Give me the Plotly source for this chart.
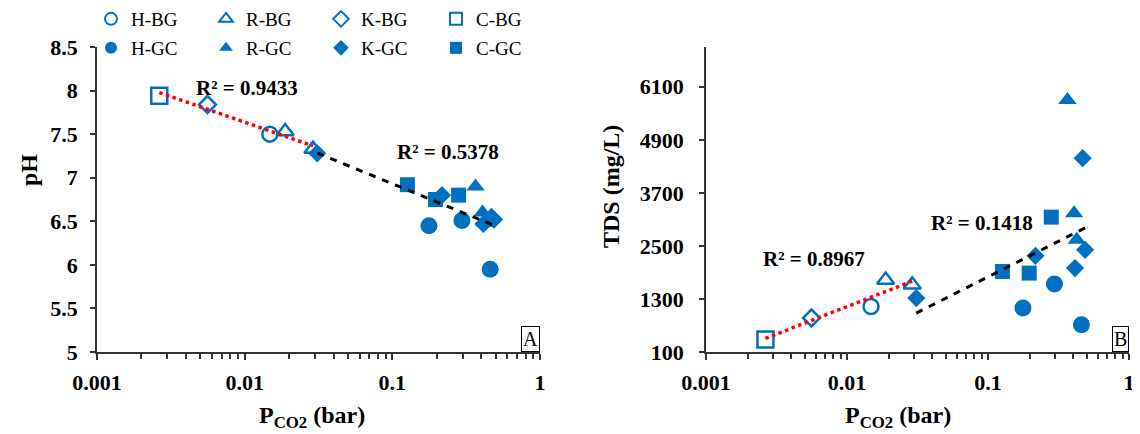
import numpy as np
import plotly.graph_objects as go

# ---------------- data ----------------
h_bg_pco2 = [0.0148]
h_bg_ph = [7.50]
h_bg_tds = [1130]

r_bg_pco2 = [0.0188, 0.0290]
r_bg_ph = [7.53, 7.33]
r_bg_tds = [1730, 1620]

k_bg_pco2 = [0.0056]
k_bg_ph = [7.84]
k_bg_tds = [870]

c_bg_pco2 = [0.00264]
c_bg_ph = [7.94]
c_bg_tds = [380]

h_gc_pco2 = [0.177, 0.296, 0.460]
h_gc_ph = [6.45, 6.51, 5.95]
h_gc_tds = [1094, 1637, 717]

r_gc_pco2 = [0.366, 0.408, 0.426]
r_gc_ph = [6.90, 6.60, 6.48]
r_gc_tds = [5800, 3240, 2640]

k_gc_pco2 = [0.031, 0.217, 0.414, 0.469, 0.488]
k_gc_ph = [7.28, 6.80, 6.47, 6.55, 6.52]
k_gc_tds = [1320, 2276, 1998, 4484, 2412]

c_gc_pco2 = [0.1265, 0.196, 0.281]
c_gc_ph = [6.92, 6.75, 6.80]
c_gc_tds = [1922, 1885, 3151]

r2_labels_ph = ["R² = 0.9433", "R² = 0.5378"]
r2_labels_tds = ["R² = 0.8967", "R² = 0.1418"]

ph_ticks = [5, 5.5, 6, 6.5, 7, 7.5, 8, 8.5]
tds_ticks = [100, 1300, 2500, 3700, 4900, 6100]
x_ticks = [0.001, 0.01, 0.1, 1]

# ---------------- styling ----------------
# the page body has an 8px margin, so the figure is 8px smaller than the window
W, H = 1132, 426
OFF = 8
BLUE = "#0070C0"
FONT = "Liberation Serif"

def px(xp):   # reference pixel -> paper fraction
    return (xp - OFF) / W

def py(yp):
    return 1 - (yp - OFF) / H

xA = [px(97), px(540)]
xB = [px(706), px(1129)]
ydom = [py(352), py(47)]

groups = [
    ("H-BG", h_bg_pco2, h_bg_ph, h_bg_tds, "circle-open", 15, "legend"),
    ("R-BG", r_bg_pco2, r_bg_ph, r_bg_tds, "triangle-up-open", 15, "legend"),
    ("K-BG", k_bg_pco2, k_bg_ph, k_bg_tds, "diamond-open", 13, "legend"),
    ("C-BG", c_bg_pco2, c_bg_ph, c_bg_tds, "square-open", 16, "legend"),
    ("H-GC", h_gc_pco2, h_gc_ph, h_gc_tds, "circle", 17, "legend2"),
    ("R-GC", r_gc_pco2, r_gc_ph, r_gc_tds, "triangle-up", 16, "legend2"),
    ("K-GC", k_gc_pco2, k_gc_ph, k_gc_tds, "diamond", 14, "legend2"),
    ("C-GC", c_gc_pco2, c_gc_ph, c_gc_tds, "square", 15, "legend2"),
]

fig = go.Figure()

for name, xs, ph, tds, sym, size, leg in groups:
    mk = dict(symbol=sym, size=size, color=BLUE,
              line=dict(color=BLUE, width=2.5 if "open" in sym else 0))
    fig.add_trace(go.Scatter(x=xs, y=ph, mode="markers", name=name, marker=mk,
                             xaxis="x", yaxis="y", legend=leg, showlegend=True))
    fig.add_trace(go.Scatter(x=xs, y=tds, mode="markers", name=name, marker=mk,
                             xaxis="x2", yaxis="y2", showlegend=False))

# trend lines: y = a*log10(x) + b fitted on each group
bg_x = np.array(h_bg_pco2 + r_bg_pco2 + k_bg_pco2 + c_bg_pco2)
bg_ph = np.array(h_bg_ph + r_bg_ph + k_bg_ph + c_bg_ph)
bg_tds = np.array(h_bg_tds + r_bg_tds + k_bg_tds + c_bg_tds)
gc_x = np.array(h_gc_pco2 + r_gc_pco2 + k_gc_pco2 + c_gc_pco2)
gc_ph = np.array(h_gc_ph + r_gc_ph + k_gc_ph + c_gc_ph)
gc_tds = np.array(h_gc_tds + r_gc_tds + k_gc_tds + c_gc_tds)

def trend(xv, yv):
    a, b = np.polyfit(np.log10(xv), yv, 1)
    xe = np.array([xv.min(), xv.max()])
    return xe, a * np.log10(xe) + b

for xv, yv, xa, ya, col, dash in [
    (bg_x, bg_ph, "x", "y", "#FF0000", "dot"),
    (gc_x, gc_ph, "x", "y", "#000000", "7px,7px"),
    (bg_x, bg_tds, "x2", "y2", "#FF0000", "dot"),
    (gc_x, gc_tds, "x2", "y2", "#000000", "7px,7px"),
]:
    xe, ye = trend(xv, yv)
    fig.add_trace(go.Scatter(x=xe, y=ye, mode="lines", xaxis=xa, yaxis=ya, showlegend=False,
                             line=dict(color=col, width=3.5 if dash == "dot" else 3, dash=dash),
                             hoverinfo="skip"))

tickfont = dict(family=FONT, size=22, color="black", weight="bold")
xaxis_common = dict(type="log", range=[-3, 0], tickvals=x_ticks, ticktext=[f"{v:g}" for v in x_ticks],
                    showline=True, linecolor="#333", linewidth=1.5, ticks="outside", ticklen=6,
                    tickwidth=1.5, tickcolor="#333", showgrid=False, zeroline=False, tickfont=tickfont,
                    ticklabelstandoff=4,
                    minor=dict(ticks="outside", ticklen=5, tickwidth=1.5, tickcolor="#333",
                               dtick="D1", showgrid=False),
                    automargin=False)
yaxis_common = dict(showline=True, linecolor="#333", linewidth=1.5, ticks="outside", ticklen=5,
                    tickwidth=1.5, tickcolor="#333", showgrid=False, zeroline=False, tickfont=tickfont,
                    automargin=False)

legend_font = dict(family=FONT, size=19, color="black")
legend_common = dict(orientation="h", xanchor="left", yanchor="middle", itemsizing="constant",
                     entrywidth=70, entrywidthmode="pixels", bgcolor="rgba(0,0,0,0)",
                     font=legend_font, itemclick=False)
fig.update_layout(
    width=W, height=H, template="none",
    paper_bgcolor="white", plot_bgcolor="white",
    margin=dict(l=0, r=0, t=0, b=0, autoexpand=False),
    xaxis=dict(domain=xA, anchor="y", **xaxis_common),
    yaxis=dict(domain=ydom, anchor="x", range=[5, 8.5], tickvals=ph_ticks,
               ticktext=[f"{v:g}" for v in ph_ticks], ticklabelstandoff=8, **yaxis_common),
    xaxis2=dict(domain=xB, anchor="y2", **xaxis_common),
    yaxis2=dict(domain=ydom, anchor="x2", range=[100, 7000], tickvals=tds_ticks,
                ticktext=[str(v) for v in tds_ticks], ticklabelstandoff=11, **yaxis_common),
    legend=dict(x=px(91), y=py(19), **legend_common),
    legend2=dict(x=px(91), y=py(48), **legend_common),
    showlegend=True,
)

ann_font = dict(family=FONT, size=21, color="black", weight="bold")
title_font = dict(family=FONT, size=24, color="black", weight="bold")
annotations = [
    dict(x=-1.985, y=8.035, xref="x", yref="y", text=r2_labels_ph[0]),
    dict(x=-0.624, y=7.30, xref="x", yref="y", text=r2_labels_ph[1]),
    dict(x=-2.234, y=2209, xref="x2", yref="y2", text=r2_labels_tds[0]),
    dict(x=-1.045, y=3015, xref="x2", yref="y2", text=r2_labels_tds[1]),
]
for a in annotations:
    fig.add_annotation(showarrow=False, font=ann_font, xanchor="center", yanchor="middle", **a)

# axis titles
fig.add_annotation(x=px(29), y=py(170), xref="paper", yref="paper", text="pH", textangle=-90,
                   xanchor="center", yanchor="middle", showarrow=False, font=title_font)
fig.add_annotation(x=px(611), y=py(187), xref="paper", yref="paper", text="TDS (mg/L)", textangle=-90,
                   xanchor="center", yanchor="middle", showarrow=False, font=title_font)
for xc in (312, 898):
    fig.add_annotation(x=px(xc), y=py(417), xref="paper", yref="paper",
                       text="P<sub>CO2</sub> (bar)", xanchor="center", yanchor="middle",
                       showarrow=False, font=title_font)

# panel letters
for xr, yr, letter in (("x domain", "y domain", "A"), ("x2 domain", "y2 domain", "B")):
    fig.add_annotation(x=1, y=0, xref=xr, yref=yr, xanchor="right", yanchor="bottom", text=letter,
                       showarrow=False, bordercolor="black", borderwidth=1, borderpad=1, bgcolor="white",
                       font=dict(family=FONT, size=20, color="black"))

fig.write_html("out.html")
